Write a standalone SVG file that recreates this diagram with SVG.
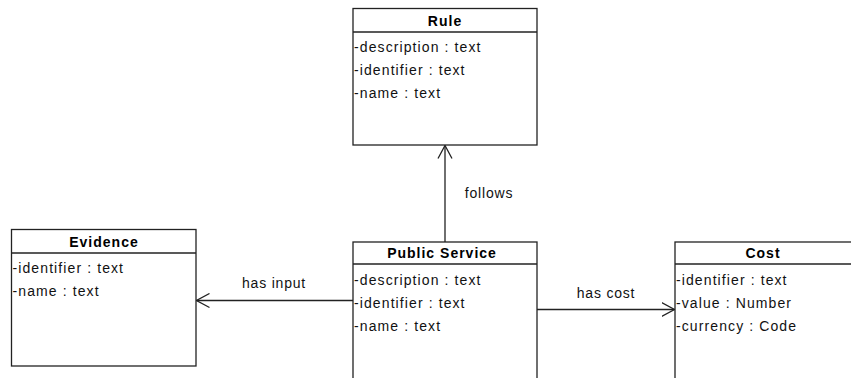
<svg xmlns="http://www.w3.org/2000/svg" width="851" height="378" viewBox="0 0 851 378">
<style>
.box{fill:#fff;stroke:#222;stroke-width:1.3}
.sep{stroke:#222;stroke-width:1.3}
.t{font-family:"Liberation Sans",Arial,sans-serif;font-size:14px;font-weight:bold;text-anchor:middle;fill:#000;letter-spacing:1px}
.a{font-family:"Liberation Sans",Arial,sans-serif;font-size:14px;fill:#111;letter-spacing:1.1px}
.l{font-family:"Liberation Sans",Arial,sans-serif;font-size:14px;fill:#111;text-anchor:middle;letter-spacing:0.8px}
.c{stroke:#222;stroke-width:1.3;fill:none}
</style>
<defs>
<marker id="open" viewBox="0 0 14 16" refX="13" refY="8" markerWidth="14" markerHeight="16" markerUnits="userSpaceOnUse" orient="auto">
<path d="M0,1 L13,8 L0,15" fill="none" stroke="#222" stroke-width="1.3"/>
</marker>
</defs>
<rect width="851" height="378" fill="#fff"/>
<g id="connectors">
<line class="c" x1="445" y1="242" x2="445" y2="145.5" marker-end="url(#open)"/>
<line class="c" x1="353" y1="300.5" x2="196.5" y2="300.5" marker-end="url(#open)"/>
<line class="c" x1="537" y1="309.5" x2="674.5" y2="309.5" marker-end="url(#open)"/>
<text class="l" x="489" y="198">follows</text>
<text class="l" x="274" y="288">has input</text>
<text class="l" x="606" y="298">has cost</text>
</g>
<g id="rule">
<rect class="box" x="353" y="8.5" width="184" height="136.5"/>
<line class="sep" x1="353" y1="32" x2="537" y2="32"/>
<text class="t" x="445" y="26">Rule</text>
<text class="a" x="354" y="52">-description : text</text>
<text class="a" x="354" y="75">-identifier : text</text>
<text class="a" x="354" y="98">-name : text</text>
</g>
<g id="evidence">
<rect class="box" x="11.5" y="229.5" width="184.5" height="136.5"/>
<line class="sep" x1="11.5" y1="253" x2="196" y2="253"/>
<text class="t" x="104" y="247">Evidence</text>
<text class="a" x="12.5" y="273">-identifier : text</text>
<text class="a" x="12.5" y="296">-name : text</text>
</g>
<g id="public-service">
<rect class="box" x="353" y="242" width="184" height="150"/>
<line class="sep" x1="353" y1="264" x2="537" y2="264"/>
<text class="t" x="442" y="258">Public Service</text>
<text class="a" x="354" y="285">-description : text</text>
<text class="a" x="354" y="308">-identifier : text</text>
<text class="a" x="354" y="331">-name : text</text>
</g>
<g id="cost">
<rect class="box" x="675" y="242" width="184" height="150"/>
<line class="sep" x1="675" y1="264" x2="859" y2="264"/>
<text class="t" x="763" y="258">Cost</text>
<text class="a" x="676" y="285">-identifier : text</text>
<text class="a" x="676" y="308">-value : Number</text>
<text class="a" x="676" y="331">-currency : Code</text>
</g>
</svg>
